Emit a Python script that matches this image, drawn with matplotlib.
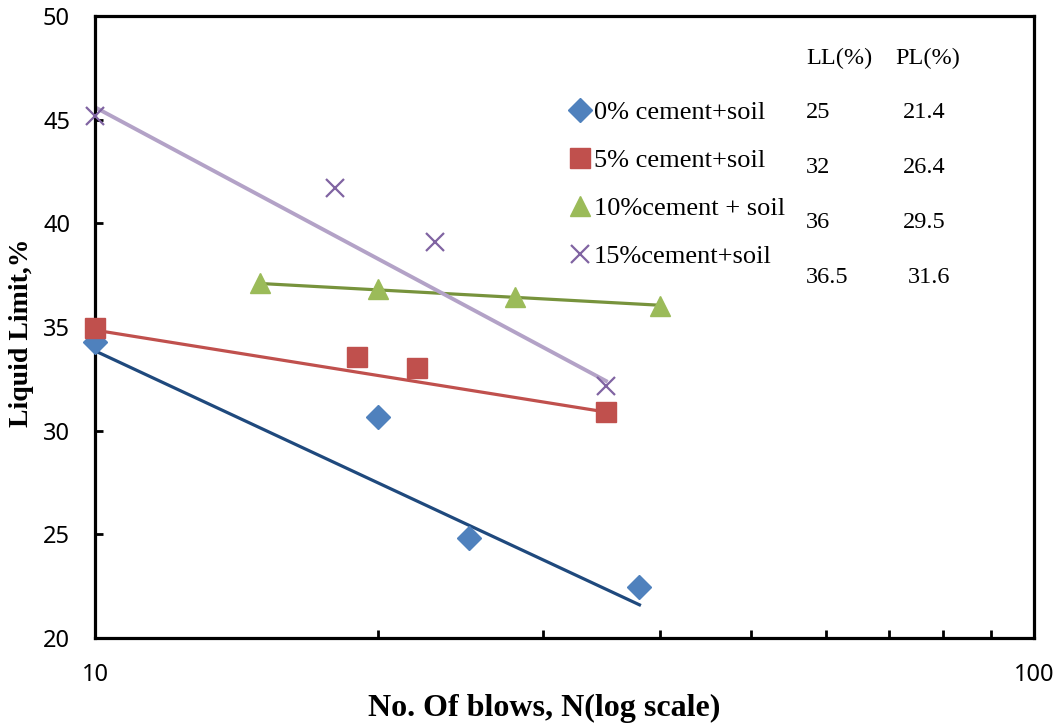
import numpy as np
import matplotlib
matplotlib.use('Agg')
import matplotlib.pyplot as plt
from matplotlib.ticker import FixedLocator, NullFormatter

# measured points, blows N vs liquid limit %
blows_0 = [10, 20, 25, 38]
ll_0 = [34.3, 30.65, 24.8, 22.45]
blows_5 = [10, 19, 22, 35]
ll_5 = [34.95, 33.55, 33.0, 30.9]
blows_10 = [15, 20, 28, 40]
ll_10 = [37.1, 36.85, 36.45, 36.0]
blows_15 = [10, 18, 23, 35]
ll_15 = [45.2, 41.7, 39.1, 32.15]

# trendline end points as drawn in the figure
trend_x_0 = [10, 38]
trend_y_0 = [33.85, 21.6]
trend_x_5 = [10, 35]
trend_y_5 = [34.85, 30.9]
trend_x_10 = [15, 40]
trend_y_10 = [37.1, 36.05]
trend_x_15 = [10, 35]
trend_y_15 = [45.6, 32.4]

labels = ['0% cement+soil', '5% cement+soil', '10%cement + soil', '15%cement+soil']
ll_values = ['25', '32', '36', '36.5']
pl_values = ['21.4', '26.4', '29.5', '31.6']

serif = 'Liberation Serif'

fig = plt.figure(figsize=(10.57, 7.24), dpi=100)
ax = fig.add_axes([0.0899, 0.1188, 0.8884, 0.859])

ax.plot(trend_x_0, trend_y_0, color='#1F497D', lw=2.3, zorder=2)
ax.plot(trend_x_5, trend_y_5, color='#C0504D', lw=2.3, zorder=2)
ax.plot(trend_x_10, trend_y_10, color='#77933C', lw=2.3, zorder=2)
ax.plot(trend_x_15, trend_y_15, color='#B3A2C7', lw=2.8, zorder=2)

h0, = ax.plot(blows_0, ll_0, 'D', color='#4F81BD', ms=12, mec='#4F81BD', ls='none', zorder=3, clip_on=False)
h5, = ax.plot(blows_5, ll_5, 's', color='#C0504D', ms=14, mec='#C0504D', ls='none', zorder=3, clip_on=False)
h10, = ax.plot(blows_10, ll_10, '^', color='#9BBB59', ms=15, mec='#9BBB59', ls='none', zorder=3, clip_on=False)
h15, = ax.plot(blows_15, ll_15, 'x', color='#8064A2', ms=13.5, mew=1.6, ls='none', zorder=3, clip_on=False)

ax.set_xscale('log')
ax.set_xlim(10, 100)
ax.set_ylim(20, 50)
ax.xaxis.set_major_locator(FixedLocator([10, 100]))
ax.xaxis.set_minor_locator(FixedLocator([20, 30, 40, 50, 60, 70, 80, 90]))
ax.xaxis.set_minor_formatter(NullFormatter())
ax.set_xticklabels(['10', '100'])
ax.set_yticks(np.arange(20, 51, 5))

for s in ax.spines.values():
    s.set_linewidth(2.3)
ax.tick_params(axis='both', which='major', direction='in', length=6, width=2, labelsize=17, pad=18)
ax.tick_params(axis='x', which='minor', direction='in', length=6, width=2)
for t in ax.get_xticklabels() + ax.get_yticklabels():
    t.set_fontfamily('Noto Sans')

fig.text(0.5147, 0.0221, 'No. Of blows, N(log scale)', family=serif, fontweight='bold',
         fontsize=23, ha='center', va='center')
fig.text(0.0208, 0.54, 'Liquid Limit,%', family=serif, fontweight='bold',
         fontsize=20, ha='center', va='center', rotation=90)

leg = ax.legend([h0, h5, h10, h15], labels, loc='upper left', bbox_to_anchor=(0.495, 0.881),
                frameon=False, prop={'family': serif, 'size': 19}, handlelength=0.7,
                handletextpad=0.2, labelspacing=0.93, borderaxespad=0)

# LL / PL table text
ax.text(0.757, 0.932, 'LL(%)', transform=ax.transAxes, family=serif, fontsize=17.5, va='center')
ax.text(0.852, 0.932, 'PL(%)', transform=ax.transAxes, family=serif, fontsize=17.5, va='center')
table_y = [0.845, 0.756, 0.668, 0.580]
pl_x = [0.8605, 0.8605, 0.8605, 0.866]
for yy, llv, plv, px in zip(table_y, ll_values, pl_values, pl_x):
    ax.text(0.757, yy, llv, transform=ax.transAxes, family=serif, fontsize=17.5, va='center')
    ax.text(px, yy, plv, transform=ax.transAxes, family=serif, fontsize=17.5, va='center')

fig.savefig('out.png', dpi=100)
